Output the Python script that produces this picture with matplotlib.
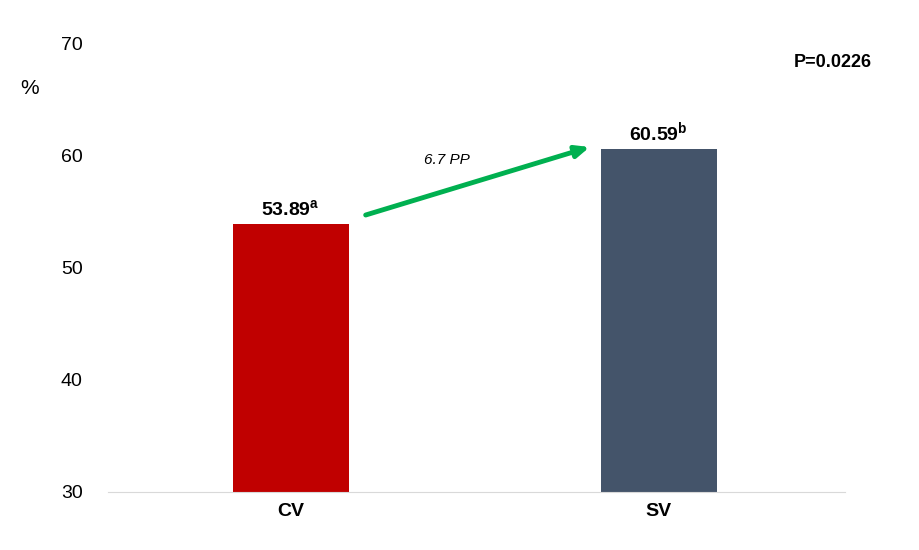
import matplotlib
matplotlib.use("Agg")
import matplotlib.pyplot as plt

plt.rcParams['font.family'] = ['Liberation Sans', 'DejaVu Sans']
plt.rcParams['mathtext.fontset'] = 'custom'
plt.rcParams['mathtext.rm'] = 'Liberation Sans'
plt.rcParams['mathtext.bf'] = 'Liberation Sans:bold'

categories = ['CV', 'SV']
values = [53.89, 60.59]
letters = ['a', 'b']
colors = ['#c00000', '#44546a']
yticks = [30, 40, 50, 60, 70]

fig = plt.figure(figsize=(9.2, 5.5), dpi=100)
ax = fig.add_axes([0.117, 0.1055, 0.801, 0.8145])
x = range(len(categories))
ax.bar(x, [v - 30 for v in values], bottom=30, width=0.315, color=colors)
ax.set_xlim(-0.497, 1.505)
ax.set_ylim(30, 70)
ax.set_yticks(yticks)
ax.tick_params(axis='y', length=0, labelsize=14, pad=18)
ax.tick_params(axis='x', length=0, labelsize=14, pad=8)
ax.set_xticks(list(x))
ax.set_xticklabels(categories, fontweight='bold')
for s in ['top', 'right', 'left']:
    ax.spines[s].set_visible(False)
ax.spines['bottom'].set_color('#d9d9d9')

for i, (v, l) in enumerate(zip(values, letters)):
    ax.text(i, v + 0.4, r"$\mathbf{%.2f}^{\mathbf{%s}}$" % (v, l),
            ha='center', va='bottom', fontsize=14)

ax.annotate('', xy=(0.8125, 60.8), xytext=(0.204, 54.73),
            arrowprops=dict(arrowstyle='-|>,head_length=0.8,head_width=0.35',
                            color='#00b050', lw=3.5, shrinkA=0, shrinkB=0))
ax.text(0.424, 59.6, '6.7 PP', style='italic', fontsize=11, ha='center', va='center')

fig.text(30 / 920, 1 - 88 / 550, '%', fontsize=15, ha='center', va='center')
fig.text(872 / 920, 1 - 62 / 550, 'P=0.0226', fontsize=13, fontweight='bold',
         ha='right', va='center')

fig.savefig('out.png', dpi=100)
